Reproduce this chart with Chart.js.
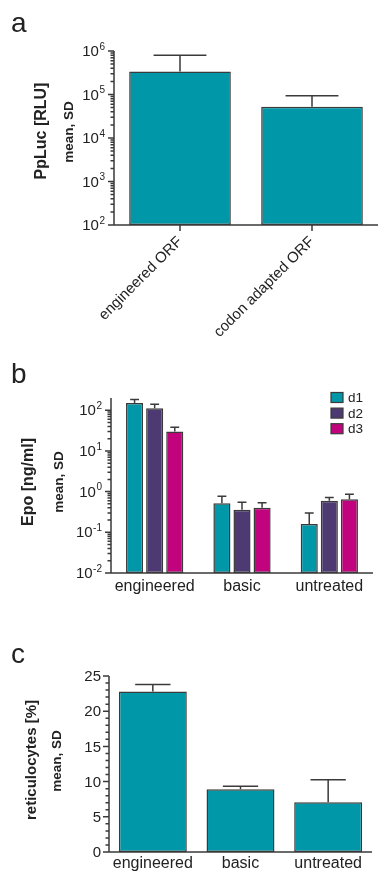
<!DOCTYPE html>
<html>
<head>
<meta charset="utf-8">
<script src="https://cdn.jsdelivr.net/npm/chart.js@4/dist/chart.umd.min.js"></script>
<style>
  body { margin: 0; background: #fff; }
  #wrap { position: relative; width: 379px; height: 872px; }
  canvas { position: absolute; left: 0; top: 0; }
</style>
</head>
<body>
<div id="wrap">
  <canvas id="chartA" width="379" height="872"></canvas>
  <canvas id="chartB" width="379" height="872"></canvas>
  <canvas id="chartC" width="379" height="872"></canvas>
</div>
<script>
// panel a: PpLuc expression
const orfLabels = ['engineered ORF', 'codon adapted ORF'];
const orfMean = [340000, 52000];
const orfSD = [460000, 41000];

// panel b: Epo serum levels per day
const epoLabels = ['engineered', 'basic', 'untreated'];
const epoSeries = ['d1', 'd2', 'd3'];
const epoD1 = [150, 0.52, 0.16];
const epoD1SD = [33, 0.25, 0.14];
const epoD2 = [112, 0.36, 0.60];
const epoD2SD = [28, 0.19, 0.12];
const epoD3 = [30, 0.40, 0.65];
const epoD3SD = [8, 0.13, 0.21];

// panel c: reticulocytes
const retLabels = ['engineered', 'basic', 'untreated'];
const retMean = [22.8, 8.9, 7.05];
const retSD = [1.0, 0.45, 3.2];

const TEAL = '#0097a9';
const PURPLE = '#4e3a72';
const MAGENTA = '#c2037e';
const INK = '#222';
const AXIS = '#3a3a3a';
const FONT = '"Liberation Sans", Arial, sans-serif';

Chart.defaults.font.family = FONT;
Chart.defaults.color = INK;

function logTicks(min, max) {
    const major = [], minor = [];
    const e0 = Math.floor(Math.log10(min) + 1e-9);
    const e1 = Math.ceil(Math.log10(max) - 1e-9);
    for (let e = e0; e <= e1; e++) {
        const p = Math.pow(10, e);
        if (p >= min * 0.999 && p <= max * 1.001) major.push({ v: p, exp: e });
        for (let k = 2; k <= 9; k++) {
            const v = k * p;
            if (v > min * 1.001 && v < max * 0.999) minor.push(v);
        }
    }
    return { major, minor };
}

function linTicks(min, max, step, minorStep) {
    const major = [], minor = [];
    for (let v = min; v <= max + 1e-9; v += minorStep) {
        const r = Math.round(v * 1000) / 1000;
        if (Math.abs(r / step - Math.round(r / step)) < 1e-6) major.push({ v: r, text: String(r) });
        else minor.push(r);
    }
    return { major, minor };
}

// draws axes, ticks, superscript labels, titles, panel letter, legend and error bars
const panelPlugin = {
    id: 'panel',
    afterDatasetsDraw(chart) {
        const ctx = chart.ctx;
        const y = chart.scales.y;
        ctx.save();
        ctx.strokeStyle = AXIS;
        ctx.lineWidth = 1.5;
        chart.data.datasets.forEach((ds, i) => {
            const meta = chart.getDatasetMeta(i);
            meta.data.forEach((bar, j) => {
                const top = y.getPixelForValue(ds.data[j] + ds.sd[j]);
                const w = bar.width * 0.26;
                ctx.beginPath();
                ctx.moveTo(bar.x, bar.y);
                ctx.lineTo(bar.x, top);
                ctx.moveTo(bar.x - w, top);
                ctx.lineTo(bar.x + w, top);
                ctx.stroke();
            });
        });
        ctx.restore();
    },
    afterDraw(chart, args, opts) {
        const ctx = chart.ctx;
        const area = chart.chartArea;
        const y = chart.scales.y;
        const x = chart.scales.x;
        ctx.save();
        ctx.strokeStyle = AXIS;
        ctx.lineWidth = 1.5;

        // axis lines
        ctx.beginPath();
        ctx.moveTo(area.left, area.top);
        ctx.lineTo(area.left, area.bottom);
        ctx.moveTo(area.left, area.bottom);
        ctx.lineTo(area.right, area.bottom);
        ctx.stroke();

        // y ticks
        const t = opts.log ? logTicks(y.min, y.max) : linTicks(y.min, y.max, 5, 1);
        ctx.beginPath();
        t.major.forEach(m => {
            const py = y.getPixelForValue(m.v);
            ctx.moveTo(area.left - 6, py);
            ctx.lineTo(area.left, py);
        });
        t.minor.forEach(v => {
            const py = y.getPixelForValue(v);
            ctx.moveTo(area.left - 3.5, py);
            ctx.lineTo(area.left, py);
        });
        if (opts.xTicks) {
            x.ticks.forEach((tk, i) => {
                const px = x.getPixelForValue(i);
                ctx.moveTo(px, area.bottom);
                ctx.lineTo(px, area.bottom + 6);
            });
        }
        ctx.stroke();

        // y tick labels
        ctx.fillStyle = INK;
        ctx.textBaseline = 'middle';
        const right = area.left - 9;
        t.major.forEach(m => {
            const py = y.getPixelForValue(m.v);
            if (opts.log) {
                const ex = String(m.exp);
                ctx.font = '10px ' + FONT;
                const w2 = ctx.measureText(ex).width;
                ctx.textAlign = 'left';
                ctx.fillText(ex, right - w2, py - 4);
                ctx.font = '15px ' + FONT;
                ctx.textAlign = 'right';
                ctx.fillText('10', right - w2 - 0.5, py + 1);
            } else {
                ctx.font = '15px ' + FONT;
                ctx.textAlign = 'right';
                ctx.fillText(m.text, right + 1, py + 1);
            }
        });

        // rotated axis titles
        const titles = [
            { text: opts.title, x: opts.titleX, y: opts.titleY, font: 'bold ' + opts.titleSize + 'px ' + FONT },
            { text: 'mean, SD', x: opts.subX, y: opts.subY, font: 'bold 13.5px ' + FONT }
        ];
        titles.forEach(tt => {
            ctx.save();
            ctx.translate(tt.x, tt.y);
            ctx.rotate(-Math.PI / 2);
            ctx.font = tt.font;
            ctx.textAlign = 'center';
            ctx.textBaseline = 'middle';
            ctx.fillText(tt.text, 0, 0);
            ctx.restore();
        });

        // panel letter
        ctx.font = '28px ' + FONT;
        ctx.textAlign = 'left';
        ctx.textBaseline = 'alphabetic';
        ctx.fillText(opts.letter, 11, opts.letterY);

        // legend
        if (opts.legend) {
            chart.data.datasets.forEach((ds, i) => {
                const cy = opts.legend.y + i * 15.6;
                ctx.fillStyle = ds.backgroundColor;
                ctx.fillRect(opts.legend.x, cy - 5, 12, 10);
                ctx.lineWidth = 1.2;
                ctx.strokeStyle = AXIS;
                ctx.strokeRect(opts.legend.x, cy - 5, 12, 10);
                ctx.fillStyle = INK;
                ctx.font = '13.5px ' + FONT;
                ctx.textBaseline = 'middle';
                ctx.fillText(ds.label, opts.legend.x + 17, cy + 1);
            });
        }
        ctx.restore();
    }
};

function makePanel(id, box, xHeight, labels, datasets, yScale, xTickOpts, panelOpts, barPct, catPct) {
    const ctx = document.getElementById(id).getContext('2d');
    return new Chart(ctx, {
        type: 'bar',
        data: {
            labels: labels,
            datasets: datasets.map(d => ({
                label: d.label,
                data: d.data,
                sd: d.sd,
                backgroundColor: d.color,
                borderColor: AXIS,
                borderWidth: 1.5,
                borderSkipped: false,
                barPercentage: barPct,
                categoryPercentage: catPct
            }))
        },
        options: {
            responsive: false,
            animation: false,
            devicePixelRatio: 1,
            layout: {
                padding: { left: box.left, top: box.top, right: 379 - box.right, bottom: 872 - box.bottom - xHeight }
            },
            plugins: {
                legend: { display: false },
                tooltip: { enabled: false },
                panel: panelOpts
            },
            scales: {
                x: {
                    grid: { display: false, drawTicks: false },
                    border: { display: false },
                    ticks: xTickOpts,
                    afterFit(s) { s.height = xHeight; }
                },
                y: Object.assign({
                    grid: { display: false, drawTicks: false },
                    border: { display: false },
                    ticks: { display: false },
                    afterFit(s) { s.width = 0; }
                }, yScale)
            }
        },
        plugins: [panelPlugin]
    });
}

// a
makePanel('chartA', { left: 114, right: 378, top: 51, bottom: 225 }, 120, orfLabels,
    [{ label: 'PpLuc', data: orfMean, sd: orfSD, color: TEAL }],
    { type: 'logarithmic', min: 100, max: 1000000 },
    { minRotation: 45, maxRotation: 45, autoSkip: false, padding: 8, color: INK, font: { size: 15 } },
    { log: true, xTicks: true, title: 'PpLuc [RLU]', titleSize: 16, titleX: 42, titleY: 131,
      subX: 69, subY: 132, letter: 'a', letterY: 32 },
    0.77, 1.0);

// b
makePanel('chartB', { left: 111, right: 373, top: 398, bottom: 573 }, 26, epoLabels,
    [
        { label: epoSeries[0], data: epoD1, sd: epoD1SD, color: TEAL },
        { label: epoSeries[1], data: epoD2, sd: epoD2SD, color: PURPLE },
        { label: epoSeries[2], data: epoD3, sd: epoD3SD, color: MAGENTA }
    ],
    { type: 'logarithmic', min: 0.01, max: 200 },
    { padding: 4, color: INK, font: { size: 16 } },
    { log: true, title: 'Epo [ng/ml]', titleSize: 16, titleX: 29, titleY: 482,
      subX: 59, subY: 482, letter: 'b', letterY: 383, legend: { x: 331, y: 397.5 } },
    0.85, 0.69);

// c
makePanel('chartC', { left: 109, right: 372, top: 676, bottom: 852 }, 20, retLabels,
    [{ label: 'reticulocytes', data: retMean, sd: retSD, color: TEAL }],
    { type: 'linear', min: 0, max: 25 },
    { padding: 2, color: INK, font: { size: 16 } },
    { log: false, title: 'reticulocytes [%]', titleSize: 15, titleX: 32, titleY: 760,
      subX: 57, subY: 761, letter: 'c', letterY: 663 },
    0.775, 1.0);
</script>
</body>
</html>
